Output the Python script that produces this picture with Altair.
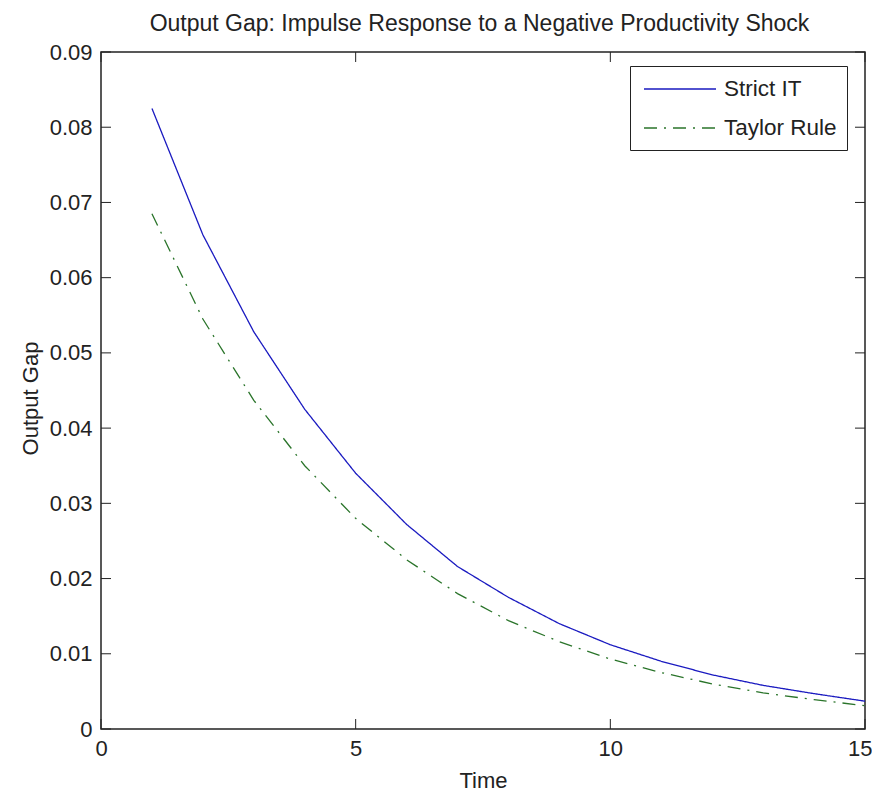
import altair as alt
import pandas as pd

# ---- data ----
time = list(range(1, 16))
strict_it = [0.0825, 0.0657, 0.0528, 0.0425, 0.0340, 0.0272, 0.0216, 0.0175,
             0.0140, 0.0112, 0.0090, 0.0072, 0.0058, 0.0047, 0.0037]
taylor_rule = [0.0685, 0.0545, 0.0437, 0.0350, 0.0280, 0.0225, 0.0180, 0.0144,
               0.0116, 0.0093, 0.0075, 0.0060, 0.0048, 0.0039, 0.0031]
series_names = ["Strict IT", "Taylor Rule"]
x_ticks = [0, 5, 10, 15]
y_ticks = [0, 0.01, 0.02, 0.03, 0.04, 0.05, 0.06, 0.07, 0.08, 0.09]
title_text = "Output Gap: Impulse Response to a Negative Productivity Shock"

W, H = 764, 677
FONT = "Liberation Sans, Arial, sans-serif"
TICK = 10
INK = "#222222"

rows = []
for name, vals in zip(series_names, [strict_it, taylor_rule]):
    for t, v in zip(time, vals):
        rows.append({"t": t, "value": v, "series": name})
df = pd.DataFrame(rows)
xt = pd.DataFrame({"t": x_ticks})
yt = pd.DataFrame({"value": y_ticks})

xscale = alt.Scale(domain=[0, 15], nice=False, zero=False)
yscale = alt.Scale(domain=[0, 0.09], nice=False, zero=False)

x_axis = alt.Axis(values=x_ticks, title="Time", grid=False, domain=False, ticks=False,
                  tickSize=0, labelPadding=9, labelFontSize=22, labelFont=FONT,
                  labelColor=INK, titleFontSize=22, titleFont=FONT,
                  titleFontWeight="normal", titleColor=INK, titleBaseline="alphabetic",
                  titleY=58, labelFlush=False,
                  labelAlign=alt.condition("datum.value == 15", alt.value("right"), alt.value("center")),
                  labelOffset=alt.condition("datum.value == 15", alt.value(7), alt.value(0)))
y_axis = alt.Axis(values=y_ticks, title="Output Gap", grid=False, domain=False, ticks=False,
                  tickSize=0, labelPadding=9, labelFontSize=22, labelFont=FONT,
                  labelColor=INK, titleFontSize=22, titleFont=FONT,
                  titleFontWeight="normal", titleColor=INK, titleBaseline="alphabetic",
                  titleX=-64, titleY=346, titleAngle=270, labelFlush=False,
                  labelExpr="datum.value == 0 ? '0' : format(datum.value, '.2f')")
top_axis = alt.Axis(orient="top", title=title_text, labels=False, ticks=False, domain=False,
                    grid=False, titleFont=FONT, titleFontSize=23, titleFontWeight="normal",
                    titleColor=INK, titleBaseline="alphabetic", titleY=-22, titleX=W / 2 - 4,
                    titleAlign="center")

lines = alt.Chart(df).mark_line(strokeWidth=1.3, clip=True).encode(
    x=alt.X("t:Q", scale=xscale, axis=x_axis),
    y=alt.Y("value:Q", scale=yscale, axis=y_axis),
    color=alt.Color("series:N",
                    scale=alt.Scale(domain=series_names, range=["#1a1ac0", "#2a742a"]),
                    legend=alt.Legend(title=None, orient="none", legendX=529, legendY=14,
                                      strokeColor=INK, fillColor="white", padding=10,
                                      symbolType="M-0.75,0L5.25,0", symbolSize=576,
                                      symbolStrokeWidth=1.3, labelOffset=58,
                                      labelFontSize=22.5, labelFont=FONT, labelColor=INK,
                                      rowPadding=14)),
    strokeDash=alt.StrokeDash("series:N",
                              scale=alt.Scale(domain=series_names, range=[[1, 0], [13, 7, 2, 7]]),
                              legend=None),
)

def tick_rule(data, **enc):
    return alt.Chart(data).mark_rule(color=INK, strokeWidth=1).encode(**enc)

bottom = tick_rule(xt, x=alt.X("t:Q", scale=xscale, axis=None), y=alt.value(H), y2=alt.value(H - TICK))
top = tick_rule(xt, x=alt.X("t:Q", scale=xscale, axis=top_axis), y=alt.value(0), y2=alt.value(TICK))
left = tick_rule(yt, y=alt.Y("value:Q", scale=yscale, axis=y_axis), x=alt.value(0), x2=alt.value(TICK))
right = tick_rule(yt, y=alt.Y("value:Q", scale=yscale, axis=y_axis), x=alt.value(W), x2=alt.value(W - TICK))

chart = alt.layer(bottom, top, left, right, lines).resolve_axis(x="independent").properties(
    width=W, height=H,
    background="white",
    autosize=alt.AutoSizeParams(type="none"),
    padding={"left": 93, "top": 44, "right": 7, "bottom": 62},
).configure_view(stroke=INK, strokeWidth=1.5)

chart.save("out.html", embed_options={"renderer": "svg", "actions": False})
